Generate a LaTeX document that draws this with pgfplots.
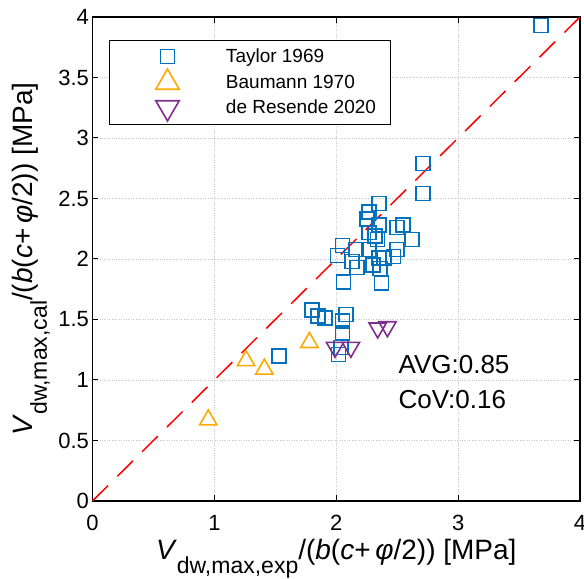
\documentclass[border=0pt]{standalone}
\usepackage{pgfplots}
\pgfplotsset{compat=1.18}
\usepackage{fontspec}
\setmainfont{Liberation Sans}
\definecolor{mblue}{RGB}{0,114,189}
\definecolor{morange}{RGB}{250,170,0}
\definecolor{mpurple}{RGB}{126,47,142}
\begin{document}
\begin{tikzpicture}
\begin{axis}[
  scale only axis, width=487.5pt, height=484pt,
  xmin=0, xmax=4, ymin=0, ymax=4,
  xtick={0,1,2,3,4}, ytick={0,0.5,1,1.5,2,2.5,3,3.5,4},
  grid=major,
  major grid style={gray!45, dotted, line width=0.7pt},
  tick align=inside, major tick length=6pt,
  axis line style={line width=1.1pt},
  every tick/.style={black, line width=1pt},
  tick label style={font=\fontsize{22}{26}\selectfont},
  xticklabel style={yshift=-11pt},
  /pgf/number format/assume math mode=true,
  xlabel={\fontsize{28}{32}\selectfont\textit{V}\raisebox{-0.5em}{\fontsize{23}{26}\selectfont dw,max,exp}/(\textit{b}(\textit{c}+\,\textit{φ}/2)) [MPa]},
  ylabel={\fontsize{28}{32}\selectfont\textit{V}\raisebox{-0.5em}{\fontsize{23}{26}\selectfont dw,max,cal}/(\textit{b}(\textit{c}+\,\textit{φ}/2)) [MPa]},
  xlabel style={at={(axis description cs:0.5,0)}, anchor=base, yshift=-59pt},
  ylabel style={at={(axis description cs:0,0.5)}, anchor=base, yshift=59.5pt},
  legend cell align=left,
  legend image code/.code={\path[draw=none,fill=none] (0pt,-12.5pt) rectangle (102pt,12.5pt); \draw[#1] plot coordinates {(51.5pt,0pt)};},
  legend style={at={(axis description cs:0,1)}, anchor=north west, xshift=16.5pt, yshift=-23pt,
    draw=black, line width=1pt, inner xsep=6.5pt, inner ysep=3.5pt,
    font=\fontsize{19}{22}\selectfont,
    nodes={inner xsep=8pt, inner ysep=0pt}},
]
\coordinate (ll) at (rel axis cs:0,0);
\coordinate (ur) at (rel axis cs:1,1);
\addplot[only marks, mark=square, mark size=7pt, mblue, line width=1.6pt] coordinates {
(3.68,3.93) (2.71,2.79) (2.71,2.54) (2.35,2.46) (2.27,2.39) (2.25,2.33)
(2.35,2.28) (2.55,2.28) (2.50,2.26) (2.27,2.22) (2.32,2.19) (2.34,2.16)
(2.62,2.16) (2.05,2.11) (2.16,2.08) (2.27,2.08) (2.50,2.08) (2.01,2.03)
(2.47,2.02) (2.35,2.01) (2.39,2.01) (2.13,1.98) (2.17,1.93) (2.30,1.95)
(2.36,1.92) (2.06,1.81) (2.37,1.80) (1.80,1.58) (1.85,1.53) (1.91,1.51)
(2.08,1.54) (2.05,1.49) (2.05,1.39) (2.02,1.21) (2.04,1.27) (1.53,1.20)
};
\addlegendentry{Taylor 1969}
\addplot[only marks, mark=triangle, mark size=10pt, morange, line width=1.6pt,
  legend image post style={mark size=13.5pt}] coordinates {
(0.95,0.67) (1.26,1.16) (1.41,1.09) (1.78,1.31)
};
\addlegendentry{Baumann 1970}
\addplot[only marks, mark=triangle, mark size=10pt, mark options={rotate=180}, mpurple, line width=1.6pt,
  legend image post style={mark size=13.5pt}] coordinates {
(1.99,1.27) (2.12,1.27) (2.34,1.43) (2.42,1.44)
};
\addlegendentry{de Resende 2020}
\addplot[forget plot, red, line width=1.5pt, dash pattern=on 22pt off 13pt] coordinates {(0,0) (4,4)};
\node[anchor=west, inner sep=0pt, font=\fontsize{26}{30}\selectfont] at (axis cs:2.51,1.13) {AVG:0.85};
\node[anchor=west, inner sep=0pt, font=\fontsize{26}{30}\selectfont] at (axis cs:2.51,0.84) {CoV:0.16};
\end{axis}
\pgfresetboundingbox
\path[use as bounding box] ([shift={(-92.5pt,-78pt)}]ll) rectangle ([shift={(4pt,17pt)}]ur);
\end{tikzpicture}
\end{document}
